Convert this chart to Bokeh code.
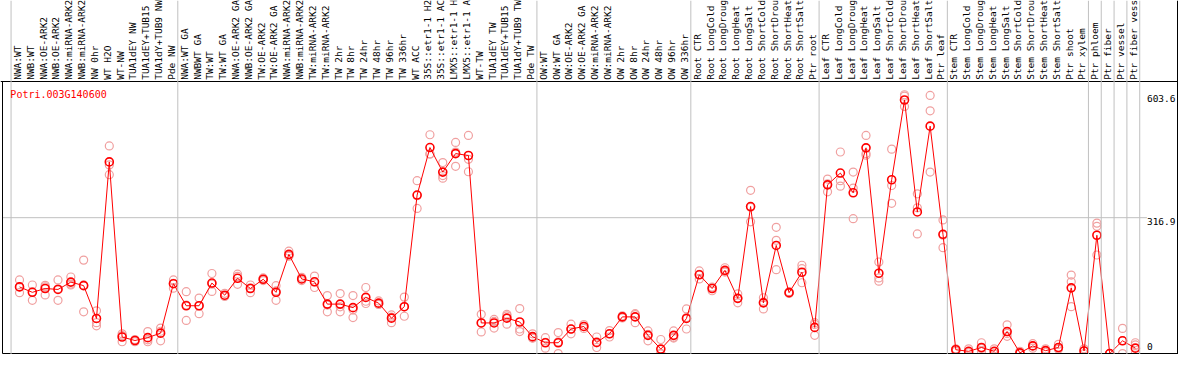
import numpy as np
from bokeh.plotting import figure
from bokeh.models import Range1d, LinearAxis, FixedTicker, Span, Label
from bokeh.core.properties import value
from bokeh.embed import file_html
from bokeh.resources import INLINE

# ---------------- data ----------------
gene = "Potri.003G140600"

labels = [
    "NWA:WT", "NWB:WT", "NWA:OE-ARK2", "NWB:OE-ARK2", "NWA:miRNA-ARK2", "NWB:miRNA-ARK2",
    "NW 0hr", "WT H2O", "WT-NW", "TUA1dEY NW", "TUA1dEY+TUB15", "TUA1dY+TUB9 NW", "Pde NW",
    "NWA:WT GA", "NWBWT GA", "TW:WT", "TW:WT GA", "NWA:OE-ARK2 GA", "NWB:OE-ARK2 GA",
    "TW:OE-ARK2", "TW:OE-ARK2 GA", "NWA:miRNA-ARK2", "NWB:miRNA-ARK2", "TW:miRNA-ARK2",
    "TW:miRNA-ARK2", "TW 2hr", "TW 8hr", "TW 24hr", "TW 48hr", "TW 96hr", "TW 336hr",
    "WT ACC", "35S::etr1-1 H2", "35S::etr1-1 AC", "LMX5::etr1-1 H", "LMX5::etr1-1 A",
    "WT-TW", "TUA1dEY TW", "TUA1dEY+TUB15", "TUA1dY+TUB9 TW", "Pde TW",
    "OW:WT", "OW:WT GA", "OW:OE-ARK2", "OW:OE-ARK2 GA", "OW:miRNA-ARK2", "OW:miRNA-ARK2",
    "OW 2hr", "OW 8hr", "OW 24hr", "OW 48hr", "OW 96hr", "OW 336hr",
    "Root CTR", "Root LongCold", "Root LongDroug", "Root LongHeat", "Root LongSalt",
    "Root ShortCold", "Root ShortDrou", "Root ShortHeat", "Root ShortSalt", "Ptr root",
    "Leaf CTR", "Leaf LongCold", "Leaf LongDroug", "Leaf LongHeat", "Leaf LongSalt",
    "Leaf ShortCold", "Leaf ShortDrou", "Leaf ShortHeat", "Leaf ShortSalt", "Ptr leaf",
    "Stem CTR", "Stem LongCold", "Stem LongDroug", "Stem LongHeat", "Stem LongSalt",
    "Stem ShortCold", "Stem ShortDrou", "Stem ShortHeat", "Stem ShortSalt", "Ptr shoot",
    "Ptr xylem", "Ptr phloem", "Ptr fiber", "Ptr vessel", "Ptr fiber vess",
]

group_sizes = [13, 28, 12, 10, 10, 11, 1, 1, 1, 1]

means = [
    155.4, 142.8, 151.7, 149.5, 166.6, 158.4, 81.8, 447.0, 38.6, 30.4, 37.1, 47.6, 162.9,
    111.5, 111.5, 164.4, 136.1, 175.5, 151.7, 173.3, 142.8, 231.3, 174.0, 167.3, 115.3,
    115.3, 107.1, 130.9, 117.5, 82.5, 109.3, 369.7, 480.5, 423.2, 466.4, 461.9, 71.4,
    71.4, 82.5, 73.6, 39.4,
    25.2, 25.2, 57.2, 63.2, 26.0, 46.1, 85.5, 85.5, 42.4, 10.4, 42.4, 81.8,
    183.7, 151.7, 194.1, 128.7, 342.9, 118.2, 252.1, 142.0, 189.6, 61.0,
    393.5, 421.0, 374.9, 479.8, 187.4, 405.4, 591.4, 330.2, 530.4, 278.2,
    8.9, 5.2, 14.1, 5.2, 51.3, 1.5, 17.8, 6.7, 14.1, 153.2, 5.9,
    275.9, 0.0, 29.7, 12.6,
]

replicates = [
    [171.8, 142.0, 155.4], [159.9, 124.2, 144.0], [159.1, 136.8, 155.4], [171.8, 124.2, 151.0],
    [178.5, 159.9, 162.0], [217.9, 97.4, 160.0], [99.6, 72.1, 64.7], [484.2, 417.3, 440.0],
    [46.1, 27.5, 42.0], [32.7, 27.5, 31.0], [51.3, 27.5, 32.0], [59.5, 52.0, 29.7],
    [171.8, 152.5, 164.0],
    [144.3, 77.3, 113.0], [129.4, 92.9, 112.0], [186.7, 145.0, 162.0], [140.5, 134.6, 133.0],
    [185.2, 161.4, 180.0], [159.9, 142.0, 153.0], [176.3, 170.3, 173.0], [158.4, 124.2, 146.0],
    [238.7, 228.3, 227.0], [177.7, 170.3, 174.0], [180.7, 154.0, 167.0], [135.3, 97.4, 113.0],
    [139.8, 97.4, 109.0], [135.3, 84.0, 102.0], [154.0, 116.7, 122.0], [122.7, 114.5, 115.0],
    [90.0, 72.1, 85.0], [131.6, 87.0, 109.0], [403.1, 338.4, 368.0], [510.3, 464.9, 466.0],
    [445.5, 409.1, 415.0], [492.4, 436.6, 470.0], [508.8, 453.0, 424.0], [91.4, 50.5, 72.0],
    [79.6, 59.5, 75.0], [91.4, 68.4, 88.0], [104.8, 57.2, 51.3], [46.1, 36.4, 36.0],
    [37.1, 12.6, 26.0], [49.0, 0.0, 27.0], [68.4, 46.1, 57.0], [67.6, 58.7, 63.0],
    [38.6, 14.1, 25.0], [53.5, 38.6, 46.0], [88.0, 83.0, 85.5], [92.9, 72.1, 91.0],
    [52.8, 29.7, 45.0], [32.7, 0.0, 0.0], [52.8, 37.9, 36.0], [104.1, 57.2, 84.0],
    [192.6, 174.0, 185.0], [146.5, 155.0, 153.0], [200.1, 190.0, 192.0], [139.1, 118.2, 129.0],
    [380.8, 307.2, 341.0], [130.1, 104.1, 120.0], [294.5, 264.0, 195.6], [144.3, 140.0, 142.0],
    [206.0, 165.1, 198.0], [72.1, 42.4, 68.0],
    [406.9, 377.1, 396.0], [470.1, 403.1, 390.5], [423.2, 386.0, 314.6], [508.8, 466.4, 462.7],
    [213.5, 176.3, 168.8], [476.8, 392.0, 350.3], [603.6, 600.3, 576.5], [372.6, 278.9, 340.0],
    [602.0, 566.1, 423.2], [311.7, 246.9, 276.0],
    [11.1, 5.2, 10.0], [11.1, 2.0, 3.0], [25.2, 5.2, 12.0], [11.1, 0.0, 4.0], [66.9, 40.1, 47.0],
    [5.2, 0.0, 0.0], [23.0, 12.6, 18.0], [11.1, 3.0, 6.0], [21.5, 10.4, 10.4],
    [183.0, 167.3, 109.3], [11.1, 0.0, 6.0],
    [304.2, 296.8, 229.8], [0.0, 0.0, 0.0], [58.7, 0.0, 30.0], [25.2, 20.0, 0.0],
]

# ---------------- layout (reference picture is 1194 x 370 px) ----------------
W, H = 1178, 354
REF_W, REF_H = 1194, 370
CELL = 13.0          # px per category
CELL0 = 17.2         # px of the first category's centre
PLOT_TOP, PLOT_BOT = 85, 369
LEFT_PX, RIGHT_PX = 2, 1193
PT_SHIFT = 0.16      # points sit slightly right of the label centre

ymax = max(max(r) for r in replicates)
ytop = 1.05 * ymax
ymid = ytop / 2.0
ppu = (PLOT_BOT - PLOT_TOP) / ytop


def px2x(px):
    return (px - CELL0) / CELL


def py2v(py):
    return (PLOT_BOT - py) / ppu


FONT = "DejaVu Sans Mono"
FS = "9.5px"
RED = "#ff0000"
PINK = "#f0a0a0"
GRID = "#c0c0c0"

n = len(labels)
p = figure(width=W, height=H,
           x_range=Range1d(px2x(0), px2x(REF_W)),
           y_range=Range1d(py2v(REF_H), py2v(0)),
           x_axis_type=None, y_axis_type=None,
           min_border=0, outline_line_color=None,
           output_backend="svg", toolbar_location=None)
p.background_fill_color = "white"
p.border_fill_color = "white"

# group separators (full height)
bounds = np.cumsum([0] + group_sizes) - 0.5
for b in bounds:
    p.add_layout(Span(location=float(b), dimension="height", line_color=GRID, line_width=1))

# middle horizontal grid line
p.segment(x0=[px2x(LEFT_PX)], y0=[ymid], x1=[px2x(1162)], y1=[ymid], line_color=GRID, line_width=1)

# category labels (top axis, drawn at the top of the plot area)
cat_axis = LinearAxis(
    ticker=FixedTicker(ticks=list(range(n))),
    major_label_overrides={i: lab for i, lab in enumerate(labels)},
    fixed_location=ytop,
    major_label_orientation="vertical",
    major_tick_in=0, major_tick_out=0, minor_tick_in=0, minor_tick_out=0,
    axis_line_color="black", axis_line_width=1,
    major_label_standoff=2,
    major_label_text_font=FONT, major_label_text_font_size=FS,
    major_label_text_color="black",
)
p.add_layout(cat_axis, "above")

# left border (only the plot area) and bottom border
left_axis = LinearAxis(ticker=FixedTicker(ticks=[]), fixed_location=px2x(LEFT_PX),
                       bounds=(py2v(PLOT_BOT), ytop), axis_line_color="black",
                       major_tick_in=0, major_tick_out=0, minor_tick_in=0, minor_tick_out=0)
p.add_layout(left_axis, "left")
bottom_axis = LinearAxis(ticker=FixedTicker(ticks=[]), fixed_location=0.0,
                         bounds=(px2x(LEFT_PX), px2x(RIGHT_PX)), axis_line_color="black",
                         major_tick_in=0, major_tick_out=0, minor_tick_in=0, minor_tick_out=0)
p.add_layout(bottom_axis, "below")
p.add_layout(Span(location=px2x(RIGHT_PX), dimension="height", line_color="black", line_width=1))

# y value labels
ylab_x = px2x(1162)
p.text(x=[ylab_x, ylab_x], y=[ymax, ymid], text=["%.1f" % ymax, "%.1f" % ymid],
       text_font=value(FONT), text_font_size=FS, text_color="black",
       text_align="left", text_baseline="top")
p.text(x=[ylab_x], y=[py2v(365)], text=["0"],
       text_font=value(FONT), text_font_size=FS, text_color="black",
       text_align="left", text_baseline="bottom")

# replicates
rx, ry = [], []
for i, r in enumerate(replicates):
    for v in r:
        rx.append(i + PT_SHIFT)
        ry.append(v)
p.scatter(x=rx, y=ry, marker="circle", size=8, fill_color=None,
          line_color=PINK, line_width=1.2)

# means
mx = [i + PT_SHIFT for i in range(n)]
p.line(x=mx, y=means, line_color=RED, line_width=1)
p.scatter(x=mx, y=means, marker="circle", size=8, fill_color=None,
          line_color=RED, line_width=1.6)

# gene name
p.add_layout(Label(x=px2x(10), y=py2v(92), text=gene, text_color=RED,
                   text_font=FONT, text_font_size="10px", text_baseline="top",
                   text_align="left"))

open("out.html", "w").write(file_html(p, INLINE))
